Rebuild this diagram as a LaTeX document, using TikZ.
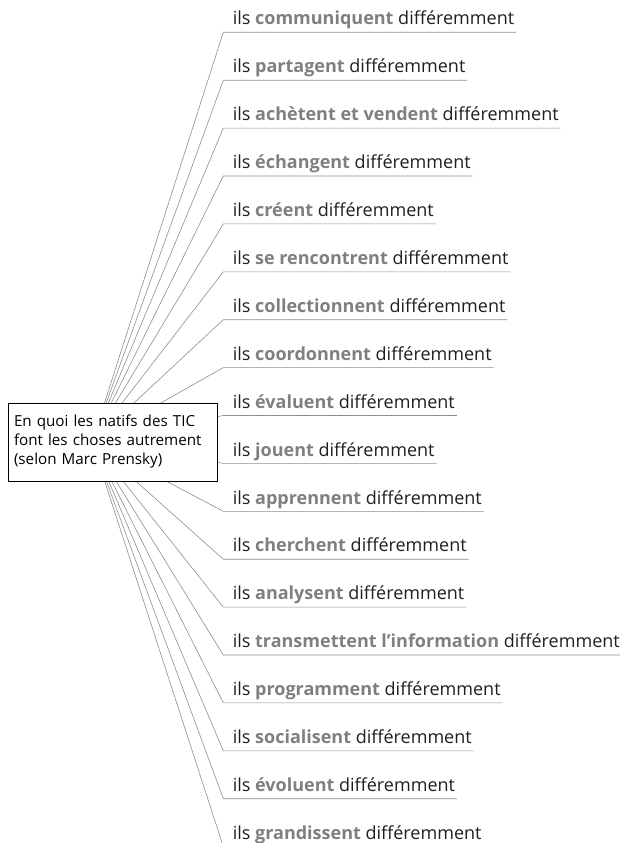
\documentclass[tikz,border=0pt]{standalone}
\usepackage{fontspec}
\setmainfont{Open Sans}
\usepackage{tikz}
\usetikzlibrary{positioning}

\definecolor{verbgray}{HTML}{7F7F7F}
\definecolor{spokegray}{HTML}{8E8E8E}
\newcommand{\ils}[1]{ils \textbf{\color{verbgray}#1} différemment}

\begin{document}
\begin{tikzpicture}[
  x=1pt, y=-1pt,
  node distance=28.6pt,
  item/.style={anchor=south west, inner sep=0pt, outer sep=0pt, text height=12pt, text depth=7.3pt, text=black!88, font=\fontsize{18}{20}\selectfont},
  question/.style={rectangle, draw, line width=0.9pt, fill=white, align=left, text width=197pt, inner xsep=6pt, minimum height=78pt, font=\fontsize{15.2}{19}\selectfont},
  spoke/.style={draw=spokegray, line width=0.6pt}
]
  \useasboundingbox (0,0) rectangle (620,843);
  \coordinate (hub) at (92,442);
  \node[item] (i1) at (232.8,32.3) {\ils{communiquent}};
  \node[item, below=of i1.south west, anchor=north west] (i2) {\ils{partagent}};
  \node[item, below=of i2.south west, anchor=north west] (i3) {\ils{achètent et vendent}};
  \node[item, below=of i3.south west, anchor=north west] (i4) {\ils{échangent}};
  \node[item, below=of i4.south west, anchor=north west] (i5) {\ils{créent}};
  \node[item, below=of i5.south west, anchor=north west] (i6) {\ils{se rencontrent}};
  \node[item, below=of i6.south west, anchor=north west] (i7) {\ils{collectionnent}};
  \node[item, below=of i7.south west, anchor=north west] (i8) {\ils{coordonnent}};
  \node[item, below=of i8.south west, anchor=north west] (i9) {\ils{évaluent}};
  \node[item, below=of i9.south west, anchor=north west] (i10) {\ils{jouent}};
  \node[item, below=of i10.south west, anchor=north west] (i11) {\ils{apprennent}};
  \node[item, below=of i11.south west, anchor=north west] (i12) {\ils{cherchent}};
  \node[item, below=of i12.south west, anchor=north west] (i13) {\ils{analysent}};
  \node[item, below=of i13.south west, anchor=north west] (i14) {\ils{transmettent l’information}};
  \node[item, below=of i14.south west, anchor=north west] (i15) {\ils{programment}};
  \node[item, below=of i15.south west, anchor=north west] (i16) {\ils{socialisent}};
  \node[item, below=of i16.south west, anchor=north west] (i17) {\ils{évoluent}};
  \node[item, below=of i17.south west, anchor=north west] (i18) {\ils{grandissent}};
  % spokes from the hub, each one running on under its line
  \draw[spoke] (hub) -- ([xshift=-9.5pt]i1.south west) -- ([xshift=2pt]i1.south east);
  \draw[spoke] (hub) -- ([xshift=-9.5pt]i2.south west) -- ([xshift=2pt]i2.south east);
  \draw[spoke] (hub) -- ([xshift=-9.5pt]i3.south west) -- ([xshift=2pt]i3.south east);
  \draw[spoke] (hub) -- ([xshift=-9.5pt]i4.south west) -- ([xshift=2pt]i4.south east);
  \draw[spoke] (hub) -- ([xshift=-9.5pt]i5.south west) -- ([xshift=2pt]i5.south east);
  \draw[spoke] (hub) -- ([xshift=-9.5pt]i6.south west) -- ([xshift=2pt]i6.south east);
  \draw[spoke] (hub) -- ([xshift=-9.5pt]i7.south west) -- ([xshift=2pt]i7.south east);
  \draw[spoke] (hub) -- ([xshift=-9.5pt]i8.south west) -- ([xshift=2pt]i8.south east);
  \draw[spoke] (hub) -- ([xshift=-9.5pt]i9.south west) -- ([xshift=2pt]i9.south east);
  \draw[spoke] (hub) -- ([xshift=-9.5pt]i10.south west) -- ([xshift=2pt]i10.south east);
  \draw[spoke] (hub) -- ([xshift=-9.5pt]i11.south west) -- ([xshift=2pt]i11.south east);
  \draw[spoke] (hub) -- ([xshift=-9.5pt]i12.south west) -- ([xshift=2pt]i12.south east);
  \draw[spoke] (hub) -- ([xshift=-9.5pt]i13.south west) -- ([xshift=2pt]i13.south east);
  \draw[spoke] (hub) -- ([xshift=-9.5pt]i14.south west) -- ([xshift=2pt]i14.south east);
  \draw[spoke] (hub) -- ([xshift=-9.5pt]i15.south west) -- ([xshift=2pt]i15.south east);
  \draw[spoke] (hub) -- ([xshift=-9.5pt]i16.south west) -- ([xshift=2pt]i16.south east);
  \draw[spoke] (hub) -- ([xshift=-9.5pt]i17.south west) -- ([xshift=2pt]i17.south east);
  \draw[spoke] (hub) -- ([xshift=-9.5pt]i18.south west) -- ([xshift=2pt]i18.south east);
  % the question box sits over the hub
  \node[question] (q) at (112.5,442) {En quoi les natifs des TIC\\font les choses autrement\\(selon Marc Prensky)};
\end{tikzpicture}
\end{document}
